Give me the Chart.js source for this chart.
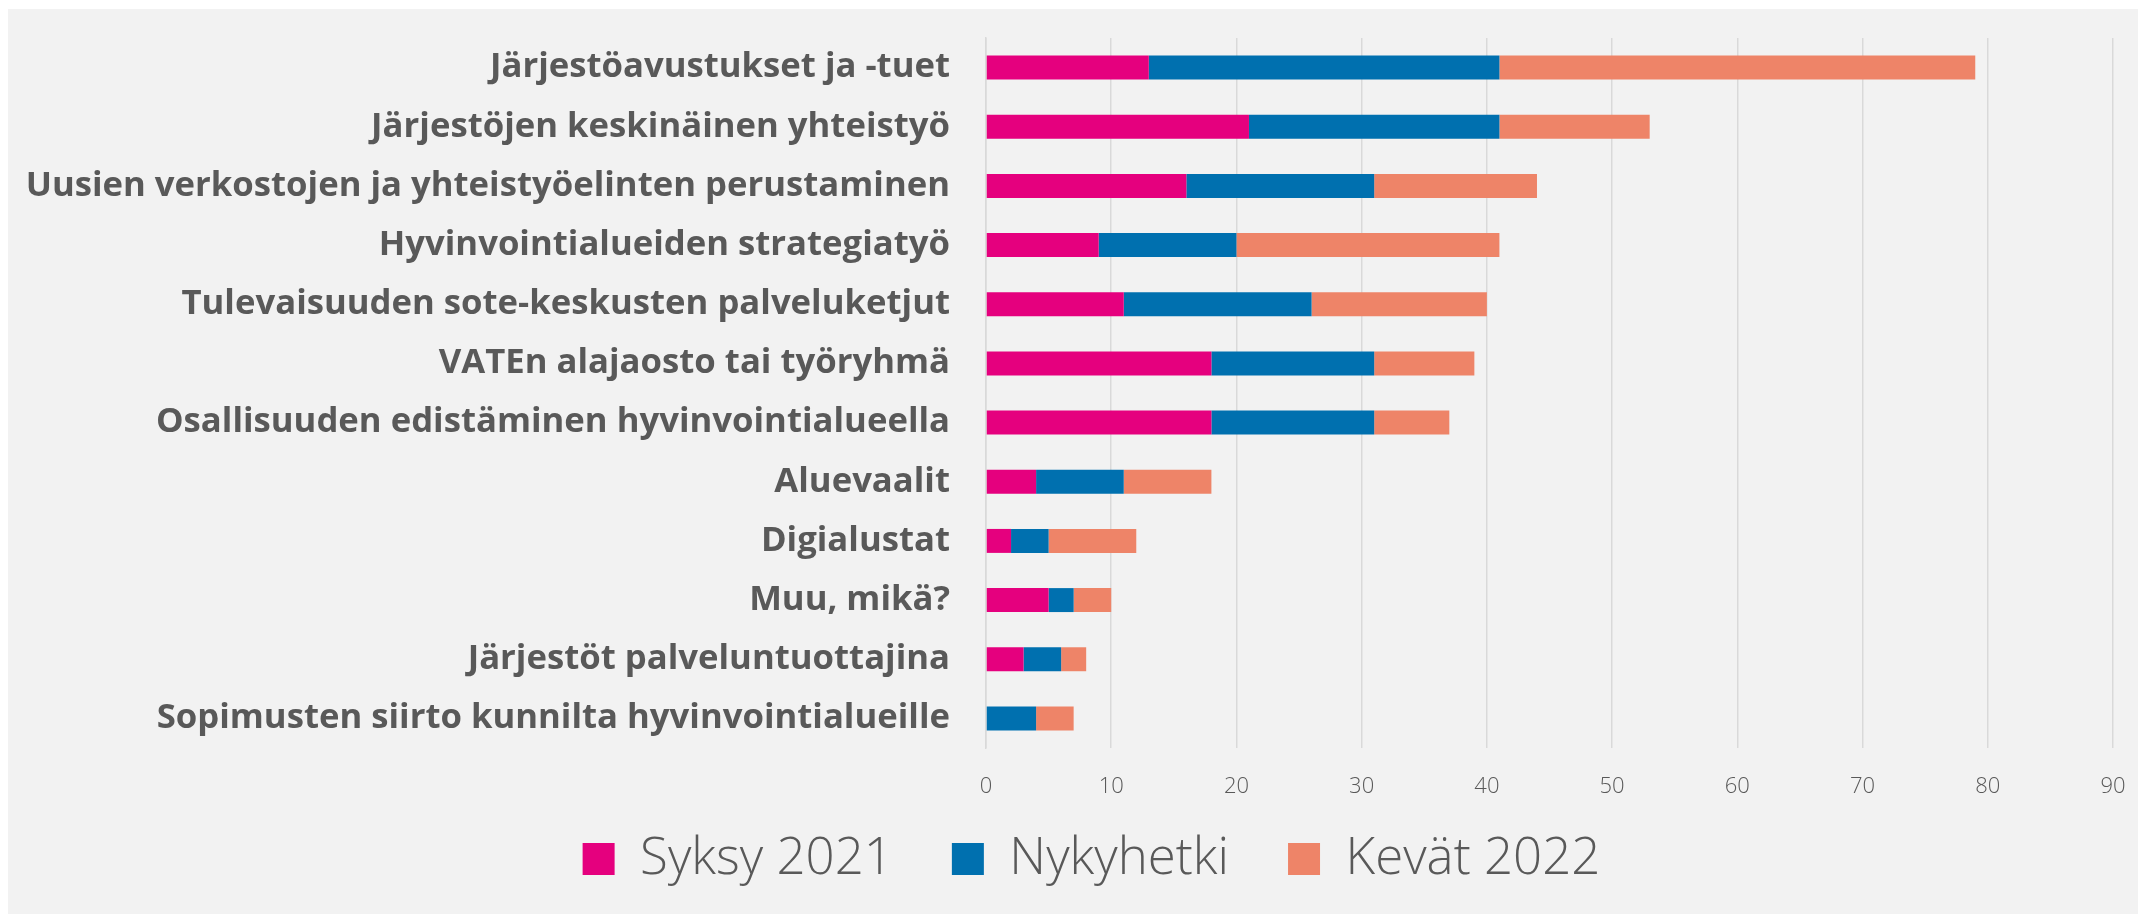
<!DOCTYPE html>
<html>
<head>
<meta charset="utf-8">
<script src="https://cdn.jsdelivr.net/npm/chart.js@4"></script>
<style>
  html, body { margin: 0; padding: 0; background: #ffffff; }
  #wrap { position: absolute; left: 8px; top: 9px; width: 2130px; height: 905px; background: #f2f2f2; }
  canvas { display: block; }
</style>
</head>
<body>
<div id="wrap"><canvas id="c" width="2130" height="905"></canvas></div>
<script>
const categories = [
  "Järjestöavustukset ja -tuet",
  "Järjestöjen keskinäinen yhteistyö",
  "Uusien verkostojen ja yhteistyöelinten perustaminen",
  "Hyvinvointialueiden strategiatyö",
  "Tulevaisuuden sote-keskusten palveluketjut",
  "VATEn alajaosto tai työryhmä",
  "Osallisuuden edistäminen hyvinvointialueella",
  "Aluevaalit",
  "Digialustat",
  "Muu, mikä?",
  "Järjestöt palveluntuottajina",
  "Sopimusten siirto kunnilta hyvinvointialueille"
];
const seriesNames = ["Syksy 2021", "Nykyhetki", "Kevät 2022"];
const syksy2021 = [13, 21, 16, 9, 11, 18, 18, 4, 2, 5, 3, 0];
const nykyhetki = [28, 20, 15, 11, 15, 13, 13, 7, 3, 2, 3, 4];
const kevat2022 = [38, 12, 13, 21, 14, 8, 6, 7, 7, 3, 2, 3];
const xTicks = [0, 10, 20, 30, 40, 50, 60, 70, 80, 90];

const colors = ["#E5007E", "#0070AF", "#EE8468"];
const textColor = "#595959";

const LEGEND_PAD = 59;
const LEGEND_FONT = 51;

const legendTune = {
  id: "legendTune",
  beforeLayout(chart) {
    const lg = chart.legend;
    if (lg && !lg.__patched) {
      const f = lg.fit;
      lg.fit = function () { f.call(this); this.height = 104; };
      lg.__patched = true;
    }
  },
  afterLayout(chart) {
    const lg = chart.legend;
    if (!lg) return;
    const newTop = 850 - LEGEND_PAD - LEGEND_FONT / 2;
    lg.top = newTop;
    lg.bottom = chart.height;
    lg.height = lg.bottom - lg.top;
    lg.left += 31;
    lg.right += 31;
  }
};

new Chart(document.getElementById("c"), {
  type: "bar",
  data: {
    labels: categories,
    datasets: [
      { label: seriesNames[0], data: syksy2021, backgroundColor: colors[0] },
      { label: seriesNames[1], data: nykyhetki, backgroundColor: colors[1] },
      { label: seriesNames[2], data: kevat2022, backgroundColor: colors[2] }
    ]
  },
  plugins: [legendTune],
  options: {
    indexAxis: "y",
    responsive: false,
    animation: false,
    devicePixelRatio: 1,
    datasets: { bar: { categoryPercentage: 1, barPercentage: 0.405, borderWidth: 0 } },
    layout: { padding: { left: 0, right: 25, top: 29, bottom: 0 } },
    plugins: {
      tooltip: { enabled: false },
      legend: {
        position: "bottom",
        labels: {
          color: textColor,
          font: { family: "'Open Sans', sans-serif", size: LEGEND_FONT, weight: 300 },
          boxWidth: 32,
          boxHeight: 32,
          padding: LEGEND_PAD
        }
      }
    },
    scales: {
      x: {
        stacked: true,
        min: 0,
        max: 90,
        afterBuildTicks: (s) => { s.ticks = xTicks.map(v => ({ value: v })); },
        afterFit: (s) => { s.height = 62; s.paddingLeft = 0; s.paddingRight = 0; },
        grid: { color: "#d9d9d9", lineWidth: 1.5, drawTicks: false },
        border: { display: false },
        ticks: {
          color: textColor,
          padding: 26,
          font: { family: "'Open Sans', sans-serif", size: 22, weight: 300 }
        }
      },
      y: {
        stacked: true,
        afterFit: (s) => { s.width = 978; s.paddingTop = 0; s.paddingBottom = 0; },
        grid: { display: false, drawTicks: false },
        border: { display: true, color: "#d9d9d9", width: 1.5 },
        ticks: {
          color: textColor,
          padding: 36,
          font: { family: "'Open Sans', sans-serif", size: 34.7, weight: 700 }
        }
      }
    }
  }
});
</script>
</body>
</html>
